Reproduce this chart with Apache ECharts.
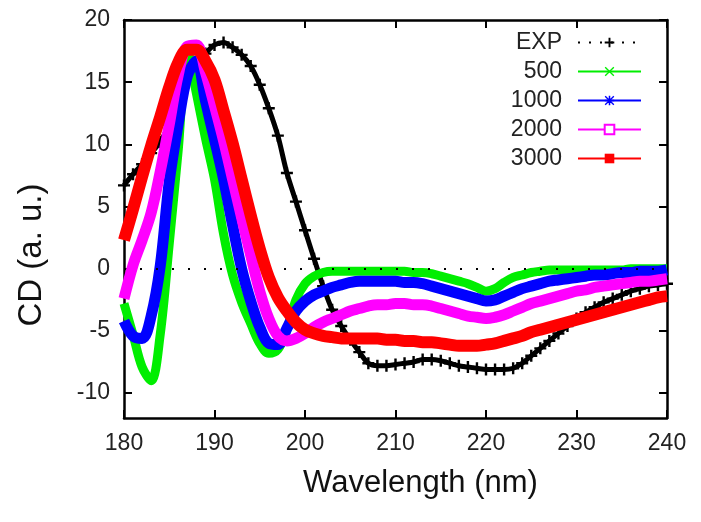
<!DOCTYPE html>
<html>
<head>
<meta charset="utf-8">
<script src="https://cdn.jsdelivr.net/npm/echarts@6/dist/echarts.min.js"></script>
<style>
html,body{margin:0;padding:0;background:#fff;}
#chart{width:701px;height:522px;}
</style>
</head>
<body>
<div id="chart"></div>
<script>
// ---- data ----
const wavelengths = [180,181,182,183,184,185,186,187,188,189,190,191,192,193,194,195,196,197,198,199,
  200,201,202,203,204,205,206,207,208,209,210,211,212,213,214,215,216,217,218,219,
  220,221,222,223,224,225,226,227,228,229,230,231,232,233,234,235,236,237,238,239,240];

const expValues = [6.7,7.6,8.4,9.3,10.2,11.6,13.4,15.0,16.3,17.3,18.0,18.2,17.8,17.2,16.3,14.8,12.9,10.7,7.7,5.4,
  3.1,0.8,-1.4,-3.3,-4.6,-5.7,-6.7,-7.6,-7.8,-7.8,-7.7,-7.6,-7.5,-7.3,-7.3,-7.4,-7.6,-7.8,-7.9,-8.0,
  -8.1,-8.1,-8.1,-8.0,-7.6,-7.0,-6.4,-5.8,-5.2,-4.6,-4.0,-3.5,-3.1,-2.7,-2.4,-2.1,-1.8,-1.6,-1.4,-1.3,-1.2];

const v500 = [-2.8,-5.3,-7.9,-9.0,-5.3,2.0,9.6,17.5,14.1,10.5,7.2,2.8,-0.5,-2.7,-4.4,-6.0,-6.8,-6.5,-4.9,-2.5,
  -1.2,-0.6,-0.3,-0.2,-0.2,-0.2,-0.2,-0.2,-0.2,-0.2,-0.2,-0.2,-0.3,-0.3,-0.4,-0.6,-0.8,-1.0,-1.2,-1.5,
  -1.8,-1.6,-1.1,-0.7,-0.5,-0.3,-0.2,-0.1,-0.1,-0.1,-0.1,-0.1,-0.1,-0.1,-0.1,-0.1,0.0,0.0,0.0,0.0,0.0];

const v1000 = [-4.2,-5.4,-5.6,-3.8,0.2,7.0,11.7,15.5,16.7,13.5,10.4,7.2,3.5,0.0,-2.6,-4.7,-6.0,-6.1,-4.8,-3.4,
  -2.6,-2.1,-1.8,-1.5,-1.3,-1.1,-1.0,-1.0,-1.0,-1.0,-1.0,-1.1,-1.1,-1.2,-1.4,-1.6,-1.8,-2.0,-2.2,-2.4,
  -2.6,-2.5,-2.2,-1.9,-1.6,-1.4,-1.2,-1.0,-0.9,-0.8,-0.7,-0.6,-0.5,-0.5,-0.4,-0.3,-0.3,-0.2,-0.2,-0.2,-0.1];

const v2000 = [-2.4,0.3,2.3,4.5,7.8,11.6,15.6,17.9,18.0,15.8,13.1,10.3,7.2,4.1,1.1,-1.8,-4.0,-5.4,-5.8,-5.6,
  -5.2,-4.7,-4.3,-4.0,-3.7,-3.4,-3.2,-3.0,-2.9,-2.9,-2.8,-2.8,-2.9,-2.9,-3.0,-3.2,-3.4,-3.6,-3.8,-3.9,
  -4.0,-3.9,-3.7,-3.4,-3.1,-2.8,-2.6,-2.4,-2.2,-2.0,-1.8,-1.7,-1.5,-1.4,-1.3,-1.2,-1.1,-1.0,-1.0,-0.9,-0.8];

const v3000 = [2.3,4.8,7.4,9.9,12.2,14.6,16.6,17.6,17.6,16.7,15.2,12.7,10.1,7.2,4.3,1.6,-0.7,-2.3,-3.4,-4.3,
  -4.9,-5.2,-5.4,-5.5,-5.6,-5.6,-5.6,-5.6,-5.6,-5.7,-5.7,-5.8,-5.8,-5.9,-5.9,-6.0,-6.1,-6.2,-6.2,-6.2,
  -6.1,-6.0,-5.8,-5.6,-5.4,-5.1,-4.9,-4.7,-4.5,-4.3,-4.1,-3.9,-3.7,-3.5,-3.3,-3.1,-2.9,-2.7,-2.5,-2.3,-2.2];

const seriesNames = ['EXP','500','1000','2000','3000'];
const yTickValues = [-10,-5,0,5,10,15,20];
const xTickValues = [180,190,200,210,220,230,240];

// ---- chart ----
const FONT = "'Liberation Sans', Arial, sans-serif";
const pair = vals => wavelengths.map((w, i) => [w, vals[i]]);

const SYM_PLUS = 'path://M4,0H6V4H10V6H6V10H4V6H0V4H4Z';
const SYM_X = 'path://M1,0L5,4L9,0L10,1L6,5L10,9L9,10L5,6L1,10L0,9L4,5L0,1Z';
const SYM_STAR = 'path://M4.2,0H5.8V4.2H10V5.8H5.8V10H4.2V5.8H0V4.2H4.2Z M1,0L5,4L9,0L10,1L6,5L10,9L9,10L5,6L1,10L0,9L4,5L0,1Z';

const frameLine = {show: true, onZero: false, lineStyle: {color: '#000', width: 2.5}};
const tickIn = {show: true, inside: true, length: 8, lineStyle: {color: '#000', width: 2}};

const chart = echarts.init(document.getElementById('chart'), null, {renderer: 'canvas'});

const colored = (name, vals, color, sym, width, z) => ({
  name: name, type: 'line', data: pair(vals), xAxisIndex: 0, yAxisIndex: 0,
  symbol: sym, symbolSize: 9, showSymbol: false, smooth: 0.35,
  z: z, clip: true,
  itemStyle: {color: color},
  lineStyle: {color: color, width: width, join: 'round', cap: 'butt'},
  emphasis: {disabled: true}
});

chart.setOption({
  animation: false,
  backgroundColor: '#fff',
  textStyle: {fontFamily: FONT},
  grid: {left: 124, right: 34, top: 20, bottom: 104, containLabel: false},
  legend: {
    orient: 'vertical', right: 59, top: 31, align: 'right', padding: 0,
    itemWidth: 63, itemHeight: 12, itemGap: 6,
    selectedMode: false,
    textStyle: {fontSize: 23, fontFamily: FONT, color: '#222', lineHeight: 20, padding: [0, 11, 0, 0]},
    data: [
      {name: 'EXP', lineStyle: {type: [2, 9], width: 2}},
      {name: '500', lineStyle: {width: 2}},
      {name: '1000', lineStyle: {width: 2}},
      {name: '2000', lineStyle: {width: 2}},
      {name: '3000', lineStyle: {width: 2}}
    ]
  },
  xAxis: [
    {
      type: 'value', position: 'bottom', min: 180, max: 240, interval: 10,
      axisLine: frameLine, axisTick: tickIn, splitLine: {show: false},
      axisLabel: {fontSize: 23, color: '#222', margin: 14, fontFamily: FONT,
        customValues: xTickValues},
      name: 'Wavelength (nm)', nameLocation: 'middle', nameGap: 50,
      nameTextStyle: {fontSize: 31, color: '#111', fontFamily: FONT, padding: [0, 0, 0, 50]}
    },
    {
      type: 'value', position: 'top', min: 180, max: 240, interval: 10,
      axisLine: frameLine, axisTick: tickIn, splitLine: {show: false},
      axisLabel: {show: false}
    }
  ],
  yAxis: [
    {
      type: 'value', position: 'left', min: -12, max: 20,
      axisLine: frameLine,
      axisTick: Object.assign({}, tickIn, {customValues: yTickValues}),
      splitLine: {show: false},
      axisLabel: {fontSize: 23, color: '#222', margin: 14, fontFamily: FONT,
        customValues: yTickValues},
      name: 'CD (a. u.)', nameLocation: 'middle', nameGap: 76, nameRotate: 90,
      nameTextStyle: {fontSize: 33, color: '#111', fontFamily: FONT, padding: [0, 72, 0, 0]}
    },
    {
      type: 'value', position: 'right', min: -12, max: 20,
      axisLine: frameLine,
      axisTick: Object.assign({}, tickIn, {customValues: yTickValues}),
      splitLine: {show: false},
      axisLabel: {show: false}
    }
  ],
  series: [
    {
      name: 'EXP', type: 'line', data: pair(expValues), xAxisIndex: 0, yAxisIndex: 0,
      symbol: SYM_PLUS, symbolSize: 12, showSymbol: true, smooth: 0.3, z: 2, clip: true,
      itemStyle: {color: '#000'},
      lineStyle: {color: '#000', width: 5, join: 'round'},
      emphasis: {disabled: true},
      markLine: {
        silent: true, symbol: 'none', label: {show: false},
        lineStyle: {color: '#000', type: [2, 14], width: 2},
        emphasis: {disabled: true},
        data: [{yAxis: 0}]
      }
    },
    colored('500', v500, '#00ee00', SYM_X, 9, 3),
    colored('1000', v1000, '#0000ff', SYM_STAR, 11, 4),
    colored('2000', v2000, '#ff00ff', 'emptyRect', 11, 5),
    colored('3000', v3000, '#ff0000', 'rect', 12, 6)
  ]
});
</script>
</body>
</html>
